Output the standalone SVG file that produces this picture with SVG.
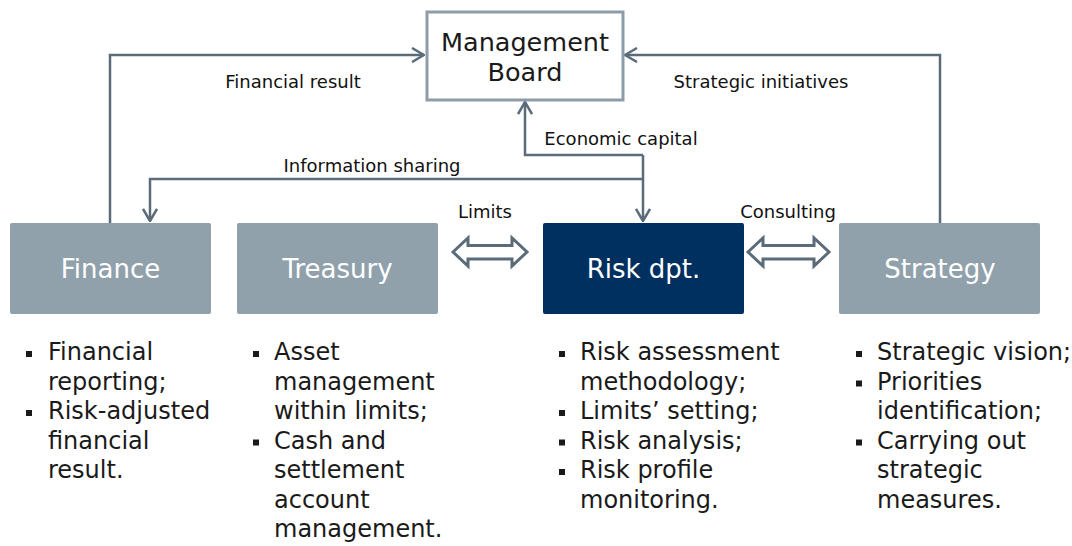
<svg xmlns="http://www.w3.org/2000/svg" width="1072" height="546" viewBox="0 0 1072 546">
<style>
text{font-family:"DejaVu Sans","Verdana",sans-serif;}
.lbl{font-size:18px;fill:#111;text-anchor:middle;}
.node{fill:#90a1ac;}
.ntext{font-size:26px;fill:#fff;text-anchor:middle;}
.mb{font-size:25.5px;fill:#1a1a1a;text-anchor:middle;}
.con{fill:none;stroke:#5b6b79;stroke-width:2.5;}
.dbl{fill:#fff;stroke:#5b6b79;stroke-width:3;stroke-linejoin:miter;}
.bul{font-size:24px;fill:#1a1a1a;}
.sq{fill:#1a1a1a;}
</style>
<defs>
<marker id="arr" viewBox="0 0 14 16" refX="13" refY="8" markerWidth="14" markerHeight="16" markerUnits="userSpaceOnUse" orient="auto">
<path d="M1,1 L13,8 L1,15" fill="none" stroke="#5b6b79" stroke-width="2.5"/>
</marker>
</defs>
<rect width="1072" height="546" fill="#fff"/>
<g id="connectors">
<path class="con" d="M110,223 V55 H424" marker-end="url(#arr)"/>
<path class="con" d="M940,223 V55 H625" marker-end="url(#arr)"/>
<path class="con" d="M643,155 H525 V102" marker-end="url(#arr)"/>
<path class="con" d="M643,155 V221" marker-end="url(#arr)"/>
<path class="con" d="M643,179 H150 V221" marker-end="url(#arr)"/>
<polygon class="dbl" points="453,252 468,238 468,245.5 512,245.5 512,238 527,252 512,266 512,259 468,259 468,266"/>
<polygon class="dbl" points="748,252 763,238 763,245.5 814,245.5 814,238 829,252 814,266 814,259 763,259 763,266"/>
<text class="lbl" x="293" y="88">Financial result</text>
<text class="lbl" x="761" y="88">Strategic initiatives</text>
<text class="lbl" x="621" y="145">Economic capital</text>
<text class="lbl" x="372" y="172">Information sharing</text>
<text class="lbl" x="485" y="218">Limits</text>
<text class="lbl" x="788" y="218">Consulting</text>
</g>
<g id="management-board">
<rect x="427" y="12" width="196" height="88" fill="#fff" stroke="#8d9ca8" stroke-width="3"/>
<text class="mb" x="525" y="51">Management</text>
<text class="mb" x="525" y="81">Board</text>
</g>
<g id="finance">
<rect class="node" x="10" y="223" width="201" height="91" rx="2"/>
<text class="ntext" x="110.5" y="278">Finance</text>
</g>
<g id="treasury">
<rect class="node" x="237" y="223" width="201" height="91" rx="2"/>
<text class="ntext" x="337.5" y="278">Treasury</text>
</g>
<g id="risk">
<rect x="543" y="223" width="201" height="91" rx="2" fill="#00305f"/>
<text class="ntext" x="643.5" y="278">Risk dpt.</text>
</g>
<g id="strategy">
<rect class="node" x="839" y="223" width="201" height="91" rx="2"/>
<text class="ntext" x="940" y="278">Strategy</text>
</g>
<g id="finance-list">
<rect class="sq" x="26" y="351" width="6" height="6"/>
<rect class="sq" x="26" y="410" width="6" height="6"/>
<text class="bul" x="48" y="360">Financial</text>
<text class="bul" x="48" y="389.5">reporting;</text>
<text class="bul" x="48" y="419">Risk-adjusted</text>
<text class="bul" x="48" y="448.5">financial</text>
<text class="bul" x="48" y="478">result.</text>
</g>
<g id="treasury-list">
<rect class="sq" x="253" y="351" width="6" height="6"/>
<rect class="sq" x="253" y="439.5" width="6" height="6"/>
<text class="bul" x="274" y="360">Asset</text>
<text class="bul" x="274" y="389.5">management</text>
<text class="bul" x="274" y="419">within limits;</text>
<text class="bul" x="274" y="448.5">Cash and</text>
<text class="bul" x="274" y="478">settlement</text>
<text class="bul" x="274" y="507.5">account</text>
<text class="bul" x="274" y="537">management.</text>
</g>
<g id="risk-list">
<rect class="sq" x="559" y="351" width="6" height="6"/>
<rect class="sq" x="559" y="410" width="6" height="6"/>
<rect class="sq" x="559" y="439.5" width="6" height="6"/>
<rect class="sq" x="559" y="469" width="6" height="6"/>
<text class="bul" x="580" y="360">Risk assessment</text>
<text class="bul" x="580" y="389.5">methodology;</text>
<text class="bul" x="580" y="419">Limits’ setting;</text>
<text class="bul" x="580" y="448.5">Risk analysis;</text>
<text class="bul" x="580" y="478">Risk profile</text>
<text class="bul" x="580" y="507.5">monitoring.</text>
</g>
<g id="strategy-list">
<rect class="sq" x="856" y="351" width="6" height="6"/>
<rect class="sq" x="856" y="380.5" width="6" height="6"/>
<rect class="sq" x="856" y="439.5" width="6" height="6"/>
<text class="bul" x="877" y="360">Strategic vision;</text>
<text class="bul" x="877" y="389.5">Priorities</text>
<text class="bul" x="877" y="419">identification;</text>
<text class="bul" x="877" y="448.5">Carrying out</text>
<text class="bul" x="877" y="478">strategic</text>
<text class="bul" x="877" y="507.5">measures.</text>
</g>
</svg>
